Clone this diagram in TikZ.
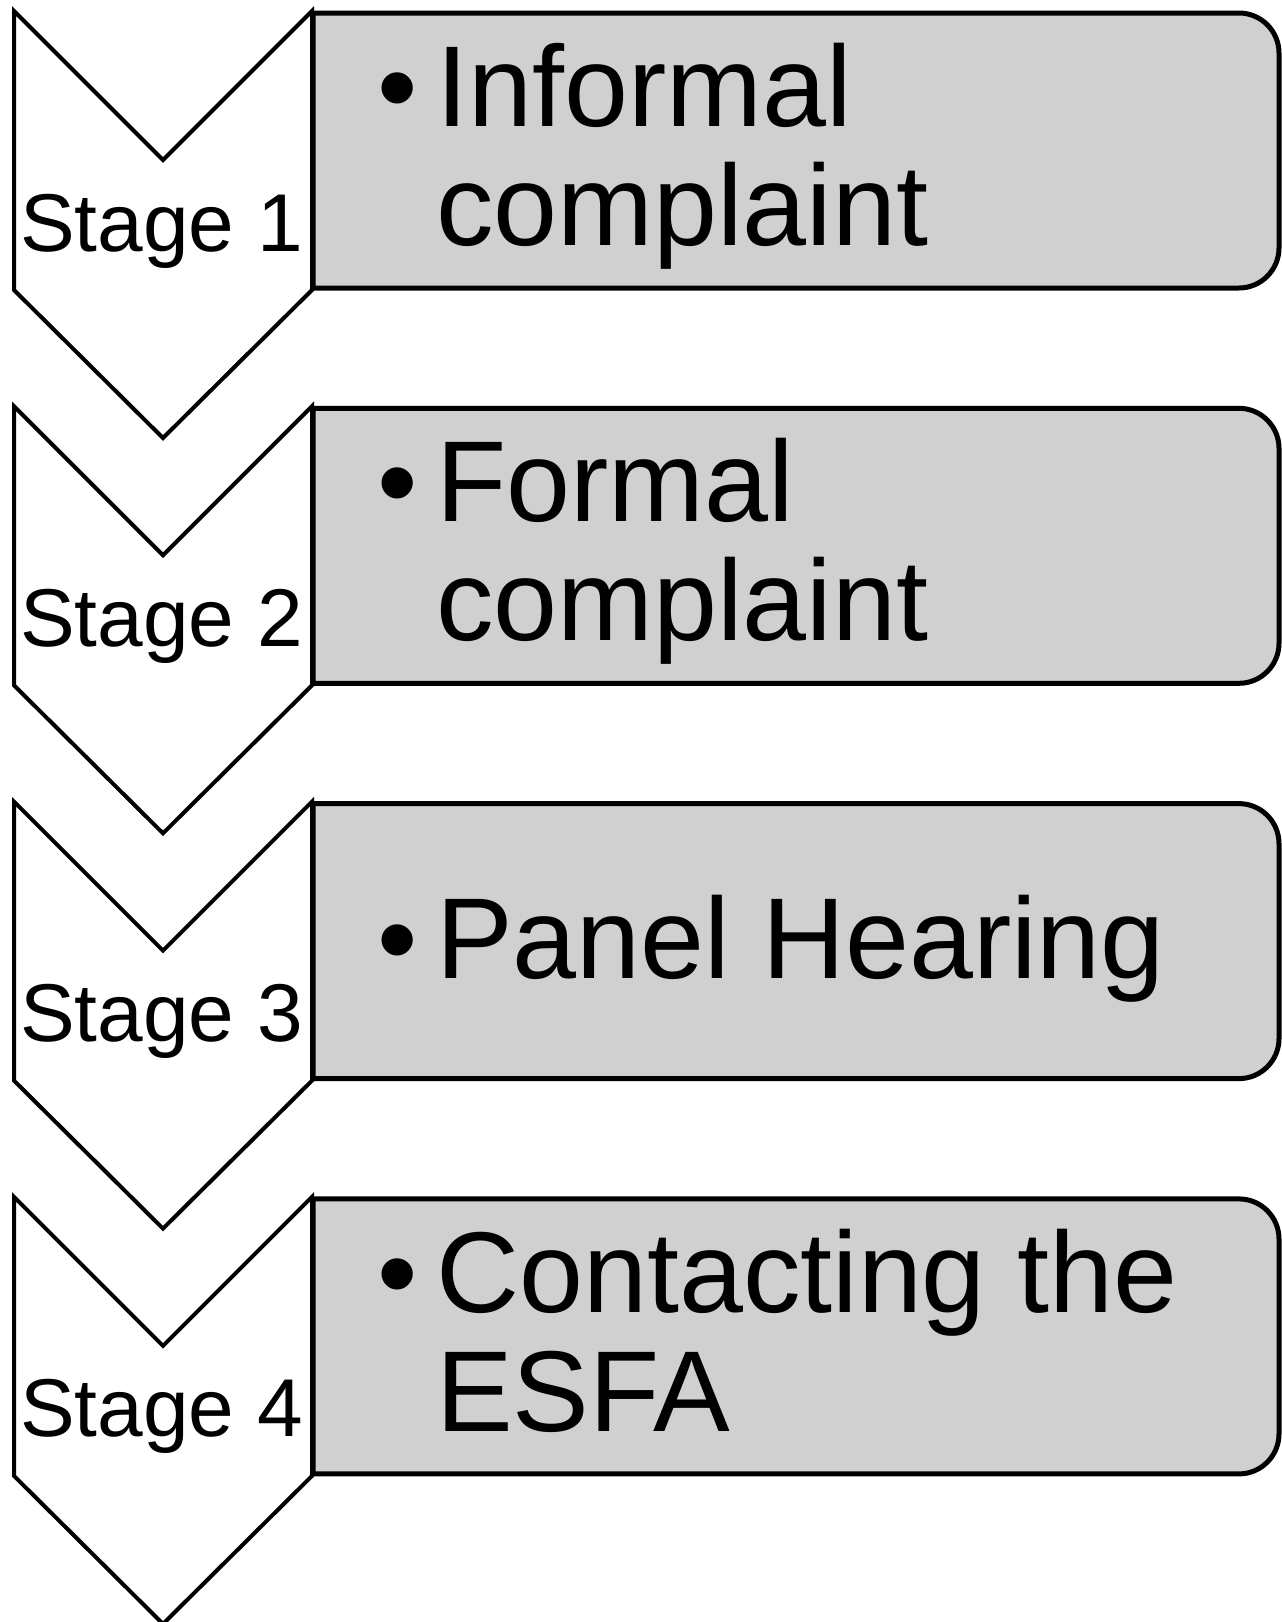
\documentclass[tikz,border=0pt]{standalone}
\usepackage{fontspec}
\setmainfont{Liberation Sans}
\definecolor{boxgray}{RGB}{208,208,208}
\begin{document}
\begin{tikzpicture}[x=1pt,y=-1pt,
  chev/.style={draw=black, line width=4pt, fill=white, line join=miter},
  stagebox/.style={draw=black, line width=5pt, fill=boxgray},
  stagelbl/.style={inner sep=0pt, anchor=base west, font=\fontsize{82}{90}\selectfont},
  itemtxt/.style={inner sep=0pt, anchor=base west, font=\fontsize{115}{119}\selectfont},
]
\useasboundingbox (0,0) rectangle (1282,1622);
% chevrons and boxes
\foreach \i in {0,1,2,3}{
  \pgfmathsetmacro\t{11+\i*395.3}
  \pgfmathsetmacro\b{13+\i*395.3}
  \draw[chev] (14,\t) -- (163,\t+149) -- (312,\t) -- (312,\t+279) -- (163,\t+427) -- (14,\t+279) -- cycle;
  \draw[stagebox] (313,\b+275) -- (313,\b) -- (1239,\b) .. controls (1261,\b) and (1279,\b+18) .. (1279,\b+40)
     -- (1279,\b+235) .. controls (1279,\b+257) and (1261,\b+275) .. (1239,\b+275) -- cycle;
}
% stage labels
\node[stagelbl] (s1) at (20,251) {Stage 1};
\node[stagelbl] (s2) at (20,646.3) {Stage 2};
\node[stagelbl] (s3) at (20,1041.6) {Stage 3};
\node[stagelbl] (s4) at (20,1436.9) {Stage 4};
% bullets
\node[itemtxt] (b1) at (377,126.5) {•};
\node[itemtxt] (b2) at (377,521.8) {•};
\node[itemtxt] (b3) at (377,978) {•};
\node[itemtxt] (b4) at (377,1312.4) {•};
% item texts
\node[itemtxt] (t1a) at (436,126.5) {Informal};
\node[itemtxt] (t1b) at (436,245.5) {complaint};
\node[itemtxt] (t2a) at (436,521.8) {Formal};
\node[itemtxt] (t2b) at (436,640.8) {complaint};
\node[itemtxt] (t3a) at (436,978) {Panel Hearing};
\node[itemtxt] (t4a) at (436,1312.4) {Contacting the};
\node[itemtxt] (t4b) at (436,1431.4) {ESFA};
\end{tikzpicture}
\end{document}
